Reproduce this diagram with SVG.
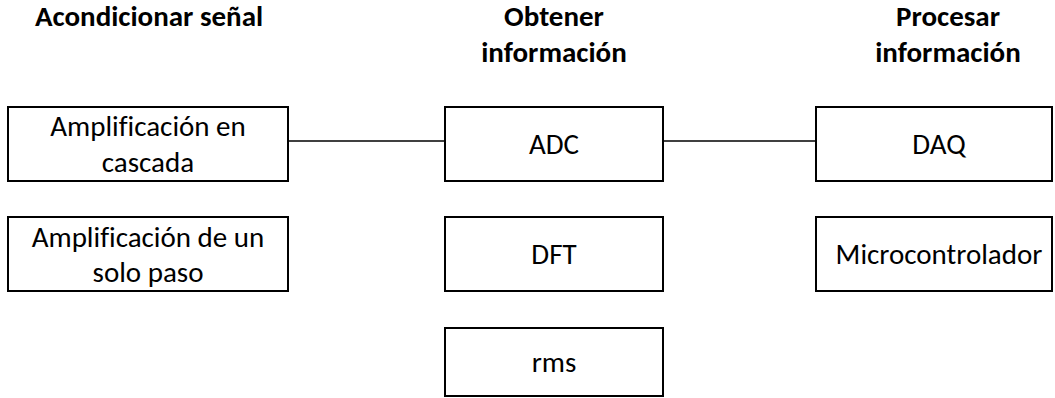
<svg xmlns="http://www.w3.org/2000/svg" width="1055" height="398" viewBox="0 0 1055 398">
  <style>
    .box { fill: #ffffff; stroke: #000000; stroke-width: 2; }
    .lbl { font-family: Carlito, "Liberation Sans", sans-serif; font-size: 29px; fill: #000000; text-anchor: middle; font-variant-ligatures: none; }
    .hdr { font-family: Carlito, "Liberation Sans", sans-serif; font-size: 29px; font-weight: bold; fill: #000000; text-anchor: middle; font-variant-ligatures: none; }
    .wire { stroke: #000000; stroke-width: 1.5; fill: none; }
  </style>
  <rect width="1055" height="398" fill="#ffffff"/>

  <!-- column headings -->
  <g id="headings">
    <text class="hdr" x="149" y="26">Acondicionar señal</text>
    <text class="hdr" x="554" y="26">Obtener</text>
    <text class="hdr" x="554" y="62">información</text>
    <text class="hdr" x="948" y="26">Procesar</text>
    <text class="hdr" x="948" y="62">información</text>
  </g>

  <!-- connectors -->
  <g id="connectors">
    <line class="wire" x1="288" y1="141" x2="445" y2="141"/>
    <line class="wire" x1="663" y1="141" x2="816" y2="141"/>
  </g>

  <g id="amp-cascada">
    <rect class="box" x="8" y="107" width="280" height="74"/>
    <text class="lbl" x="148" y="136">Amplificación en</text>
    <text class="lbl" x="148" y="172">cascada</text>
  </g>
  <g id="amp-un-paso">
    <rect class="box" x="8" y="217" width="280" height="74"/>
    <text class="lbl" x="148" y="247">Amplificación de un</text>
    <text class="lbl" x="148" y="282">solo paso</text>
  </g>

  <g id="adc">
    <rect class="box" x="445" y="107" width="218" height="74"/>
    <text class="lbl" x="554" y="154">ADC</text>
  </g>
  <g id="dft">
    <rect class="box" x="445" y="217" width="218" height="74"/>
    <text class="lbl" x="554" y="264">DFT</text>
  </g>
  <g id="rms">
    <rect class="box" x="445" y="328" width="218" height="68"/>
    <text class="lbl" x="554" y="372">rms</text>
  </g>

  <g id="daq">
    <rect class="box" x="816" y="107" width="236" height="74"/>
    <text class="lbl" x="939" y="154">DAQ</text>
  </g>
  <g id="microcontrolador">
    <rect class="box" x="816" y="217" width="236" height="74"/>
    <text class="lbl" x="939" y="264">Microcontrolador</text>
  </g>
</svg>
